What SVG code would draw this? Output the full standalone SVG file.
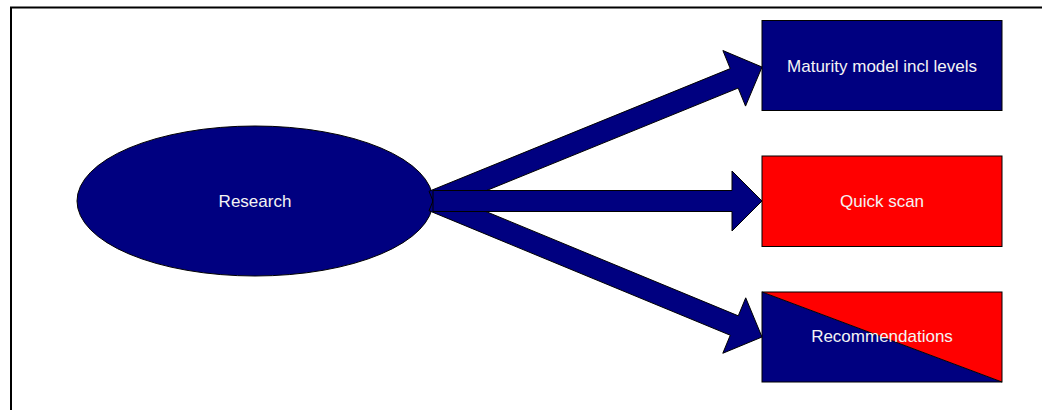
<svg xmlns="http://www.w3.org/2000/svg" width="1042" height="410" viewBox="0 0 1042 410">
<style>
.lbl{font-family:"Liberation Sans",Arial,sans-serif;font-size:17px;fill:#f4f4f4;text-anchor:middle}
.sh{stroke:#000;stroke-width:1}
.navy{fill:#000080}
.red{fill:#ff0000}
</style>
<rect x="0" y="0" width="1042" height="410" fill="#fff"/>
<rect x="11" y="7.5" width="1100" height="500" fill="none" stroke="#000" stroke-width="2"/>
<g id="research">
<ellipse class="sh navy" cx="255" cy="201" rx="178" ry="75"/>
<text class="lbl" x="255" y="207">Research</text>
</g>
<g id="connectors">
<polygon class="sh navy" points="436.96,210.72 738.18,88.04 745.54,106.10 762,67 722.90,50.54 730.26,68.60 429.04,191.28"/>
<polygon class="sh navy" points="428.99,210.70 730.26,335.24 722.81,353.27 762,337 745.73,297.81 738.28,315.84 437.01,191.30"/>
<polygon class="sh navy" points="433,190.5 732,190.5 732,171 762,201 732,231 732,211.5 433,211.5"/>
</g>
<g id="maturity">
<rect class="sh navy" x="762" y="20.5" width="240" height="90"/>
<text class="lbl" x="882" y="72">Maturity model incl levels</text>
</g>
<g id="quickscan">
<rect class="sh red" x="762" y="156" width="240" height="90.5"/>
<text class="lbl" x="882" y="207">Quick scan</text>
</g>
<g id="recommendations">
<polygon class="red" points="762,292 1002,292 1002,382"/>
<polygon class="navy" points="762,292 1002,382 762,382"/>
<line x1="762" y1="292" x2="1002" y2="382" stroke="#000" stroke-width="1"/>
<rect class="sh" x="762" y="292" width="240" height="90" fill="none"/>
<text class="lbl" x="882" y="342">Recommendations</text>
</g>
</svg>
